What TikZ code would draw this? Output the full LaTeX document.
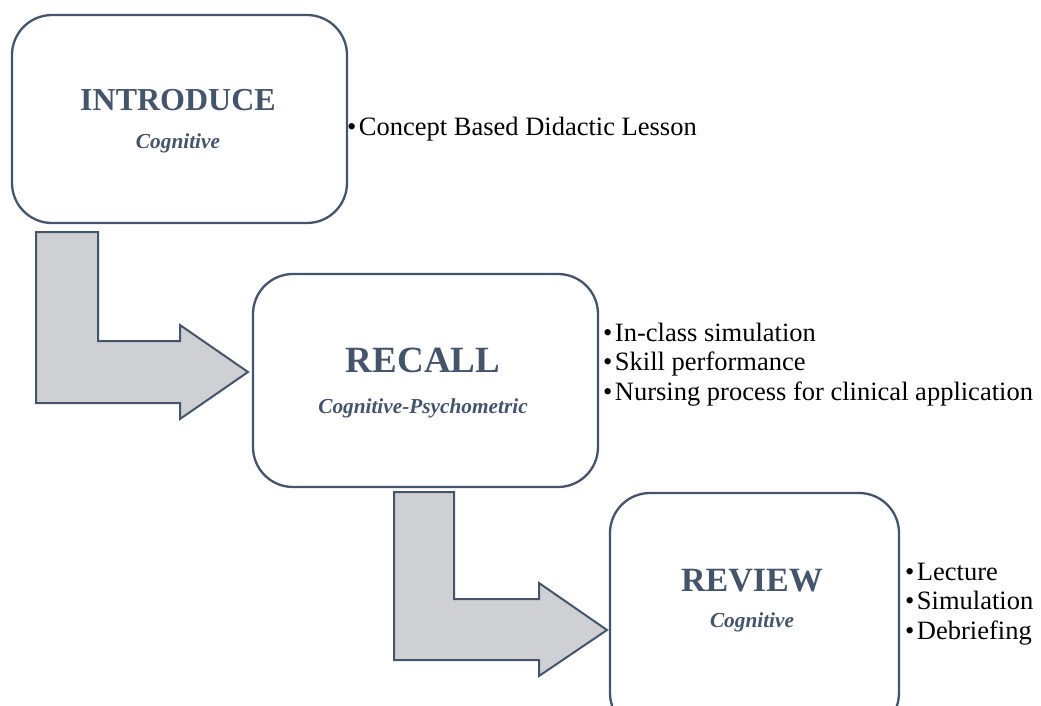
\documentclass[tikz,border=0pt]{standalone}
\usepackage{fontspec}
\setmainfont{Liberation Serif}
\definecolor{slate}{HTML}{44546A}
\definecolor{arrowfill}{HTML}{CFD0D4}
\begin{document}
\begin{tikzpicture}[x=1pt,y=-1pt,
 stagebox/.style={draw=slate, line width=2.3pt, rounded corners=40pt, fill=white, inner sep=0pt},
 titletext/.style={text=slate, font=\bfseries\fontsize{32}{36}\selectfont, anchor=base, inner sep=0pt},
 subtext/.style={text=slate, font=\bfseries\itshape\fontsize{21.3}{24}\selectfont, anchor=base, inner sep=0pt},
 bent/.style={draw=slate, line width=2pt, fill=arrowfill, line join=miter},
 item/.style={font=\fontsize{26.5}{29.5}\selectfont, anchor=base west, inner sep=0pt}
]
\useasboundingbox (0,0) rectangle (1041,705);
\clip (0,0) rectangle (1041,705);

% bent arrows
\draw[bent] (36,232) -- (98,232) -- (98,341) -- (180,341) -- (180,325) -- (248,372)
  -- (180,419) -- (180,403) -- (36,403) -- cycle;
\draw[bent] (394,492) -- (454,492) -- (454,599) -- (539,599) -- (539,583) -- (607,630)
  -- (539,676) -- (539,660) -- (394,660) -- cycle;

% boxes
\node[stagebox, minimum width=335pt, minimum height=208pt] (intro) at (179.5,119) {};
\node[stagebox, minimum width=345pt, minimum height=213pt] (recall) at (425.5,380.5) {};
\node[stagebox, minimum width=289pt, minimum height=240pt] (review) at (754.5,613) {};

% titles
\node[titletext] (introT) at (178,110) {INTRODUCE};
\node[subtext] (introS) at (178,148) {Cognitive};
\node[titletext, font=\bfseries\fontsize{37}{40}\selectfont] (recallT) at (423,372) {RECALL};
\node[subtext] (recallS) at (423,413) {Cognitive-Psychometric};
\node[titletext, font=\bfseries\fontsize{34}{38}\selectfont] (reviewT) at (752,591) {REVIEW};
\node[subtext] (reviewS) at (752,627) {Cognitive};

% lists
\newcommand{\itembullet}{\textbullet\kern2.5pt}
\node[item] (l1) at (347,135) {\itembullet Concept Based Didactic Lesson};
\node[item] (l2) at (603,341) {\itembullet In-class simulation};
\node[item] (l3) at (603,370.5) {\itembullet Skill performance};
\node[item] (l4) at (603,400) {\itembullet Nursing process for clinical application};
\node[item] (l5) at (905,580) {\itembullet Lecture};
\node[item] (l6) at (905,609.5) {\itembullet Simulation};
\node[item] (l7) at (905,639) {\itembullet Debriefing};
\end{tikzpicture}
\end{document}
